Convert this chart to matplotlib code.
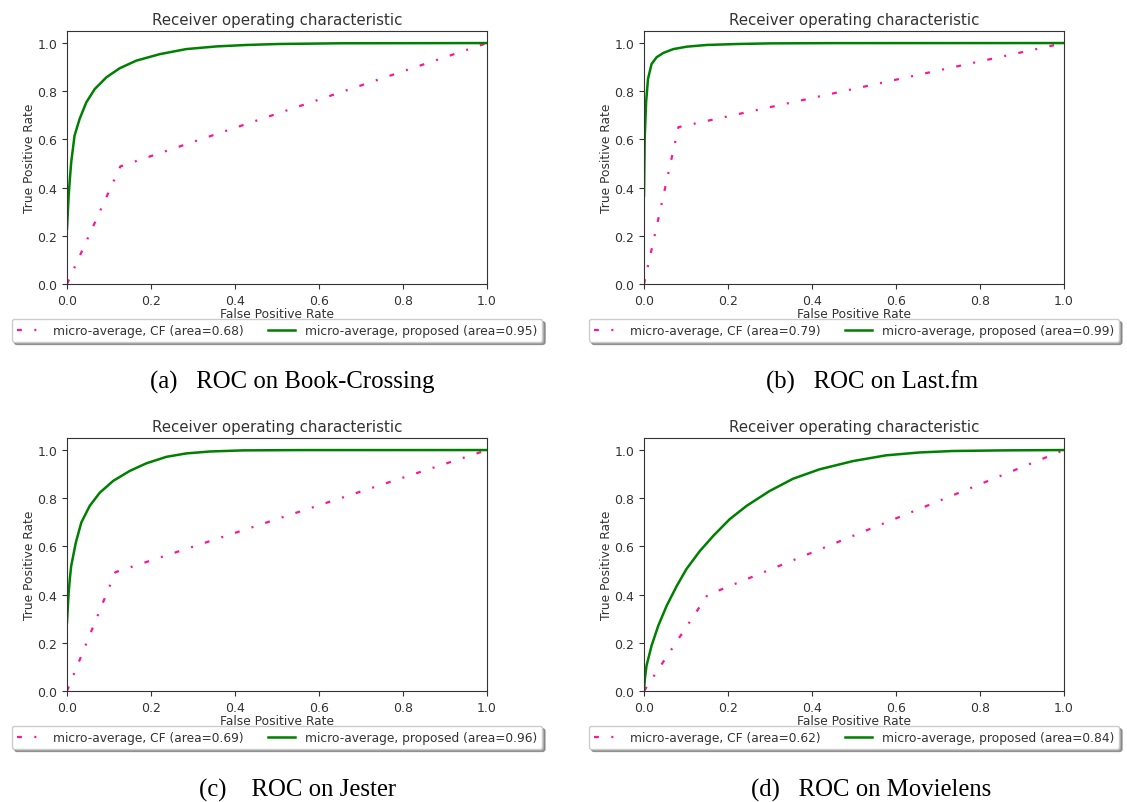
import numpy as np
import matplotlib
matplotlib.use("Agg")
import matplotlib.pyplot as plt

# panel captions and AUC values
captions = ["(a)   ROC on Book-Crossing", "(b)   ROC on Last.fm",
            "(c)    ROC on Jester", "(d)   ROC on Movielens"]
cf_auc = [0.68, 0.79, 0.69, 0.62]
prop_auc = [0.95, 0.99, 0.96, 0.84]

# CF curves: three-point ROC (0,0) -> knee -> (1,1)
cf_fpr = [[0.0, 0.127, 1.0], [0.0, 0.082, 1.0], [0.0, 0.115, 1.0], [0.0, 0.151, 1.0]]
cf_tpr = [[0.0, 0.488, 1.0], [0.0, 0.651, 1.0], [0.0, 0.493, 1.0], [0.0, 0.398, 1.0]]

# proposed curves
prop_fpr = [
    [0.0, 0.002, 0.004, 0.007, 0.010, 0.018, 0.030, 0.046, 0.066, 0.094, 0.125, 0.165,
     0.221, 0.284, 0.356, 0.427, 0.502, 0.65, 1.0],
    [0.0, 0.0016, 0.005, 0.0095, 0.018, 0.030, 0.046, 0.070, 0.102, 0.149, 0.221, 0.30,
     0.45, 1.0],
    [0.0, 0.002, 0.004, 0.007, 0.010, 0.021, 0.034, 0.054, 0.078, 0.110, 0.149, 0.189,
     0.237, 0.284, 0.340, 0.419, 0.55, 1.0],
    [0.0, 0.002, 0.006, 0.018, 0.034, 0.054, 0.078, 0.101, 0.133, 0.165, 0.204, 0.244,
     0.299, 0.355, 0.418, 0.497, 0.576, 0.656, 0.735, 0.854, 1.0],
]
prop_tpr = [
    [0.229, 0.30, 0.367, 0.44, 0.505, 0.616, 0.685, 0.754, 0.809, 0.858, 0.895, 0.927,
     0.954, 0.975, 0.986, 0.992, 0.996, 0.999, 1.0],
    [0.367, 0.602, 0.754, 0.851, 0.913, 0.941, 0.959, 0.975, 0.985, 0.992, 0.996, 0.9986,
     0.9997, 1.0],
    [0.285, 0.35, 0.409, 0.47, 0.519, 0.616, 0.699, 0.768, 0.823, 0.872, 0.913, 0.945,
     0.972, 0.986, 0.994, 0.9986, 0.9998, 1.0],
    [0.0, 0.05, 0.105, 0.188, 0.271, 0.354, 0.436, 0.506, 0.581, 0.644, 0.713, 0.768,
     0.830, 0.881, 0.920, 0.954, 0.978, 0.990, 0.996, 0.9986, 1.0],
]

W, H = 1127, 803
fig = plt.figure(figsize=(W / 100, H / 100), dpi=100)

# axes placement in pixels: left edge, y of the x-axis
lefts = [67, 644, 67, 644]
zeros_y = [285, 285, 692, 692]
cap_x = [292, 872, 298, 871]
cap_y = [382, 382, 790, 790]

for i in range(4):
    ax_w = 420
    ax_h = 253
    ax = fig.add_axes([lefts[i] / W, 1 - zeros_y[i] / H, ax_w / W, ax_h / H])
    ax.plot(cf_fpr[i], cf_tpr[i], color="deeppink", lw=1.6,
            linestyle=(0, (2.2, 5.6, 0.9, 5.6)),
            label="micro-average, CF (area={:.2f})".format(cf_auc[i]))
    ax.plot(prop_fpr[i], prop_tpr[i], color="green", lw=1.8,
            label="micro-average, proposed (area={:.2f})".format(prop_auc[i]))
    ax.set_xlim(0, 1)
    ax.set_ylim(0, 1.05)
    ax.set_xticks([0, 0.2, 0.4, 0.6, 0.8, 1.0])
    ax.set_yticks([0, 0.2, 0.4, 0.6, 0.8, 1.0])
    ax.tick_params(labelsize=9, colors="#333333", length=3.5)
    for s in ax.spines.values():
        s.set_color("#333333")
    ax.set_xlabel("False Positive Rate", fontsize=8.8, labelpad=0, color="#333333")
    ax.set_ylabel("True Positive Rate", fontsize=8.8, labelpad=1, color="#333333")
    ax.set_title("Receiver operating characteristic", fontsize=10.8, pad=5, color="#333333")
    leg = ax.legend(loc="upper center", bbox_to_anchor=(0.5, -0.138), ncol=2,
                    fontsize=8.8, shadow=True, fancybox=True, columnspacing=2.0,
                    borderaxespad=0, handlelength=2.2)
    for t in leg.get_texts():
        t.set_color("#333333")
    fig.text(cap_x[i] / W, 1 - cap_y[i] / H, captions[i], ha="center", va="center",
             fontsize=17.8, family="Liberation Serif")

fig.savefig("out.png", dpi=100)
